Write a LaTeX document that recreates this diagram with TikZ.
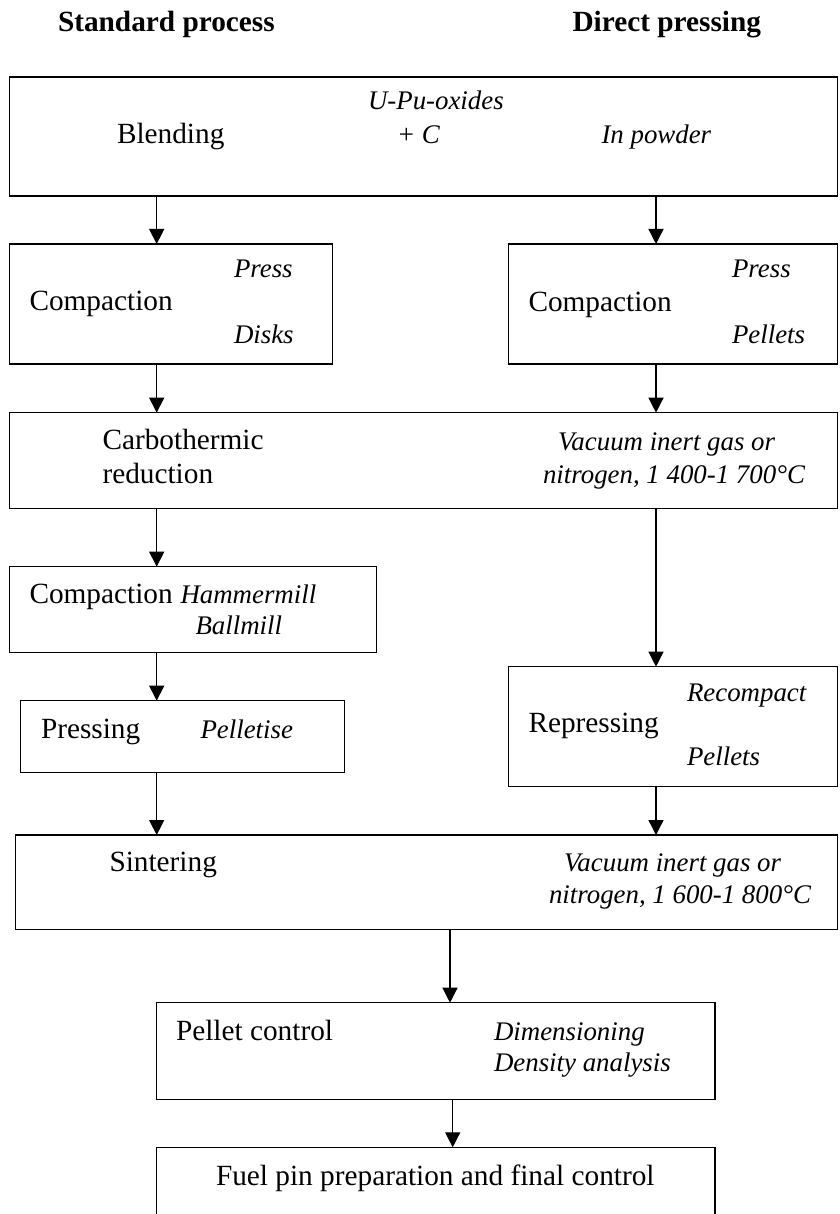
\documentclass[tikz,border=0pt]{standalone}
\usepackage{fontspec}
\setmainfont{Liberation Serif}
\usetikzlibrary{arrows.meta}
\tikzset{
  box/.style={draw, line width=1.5pt, inner sep=0pt, outer sep=0pt},
  txt/.style={anchor=base west, inner sep=0pt, outer sep=0pt, font=\fontsize{29.3}{35}\selectfont},
  itx/.style={anchor=base west, inner sep=0pt, outer sep=0pt, font=\fontsize{26.86}{32}\selectfont\itshape},
  ttl/.style={anchor=base west, inner sep=0pt, outer sep=0pt, font=\fontsize{29.3}{35}\selectfont\bfseries},
  arr/.style={line width=1.3pt, -{Triangle[width=15pt,length=15pt]}},
}
\begin{document}
\begin{tikzpicture}[x=1pt,y=-1pt]
\useasboundingbox (0,0) rectangle (839,1214);
% columns of connectors
\coordinate (L) at (156.7,0);
\coordinate (R) at (656,0);
\coordinate (M1) at (450,0);
\coordinate (M2) at (452.7,0);
% titles
\node[ttl] (tstd) at (58,31.7) {Standard process};
\node[ttl] (tdir) at (572.5,31.7) {Direct pressing};
% boxes
\node[box, minimum width=828.2pt, minimum height=119pt] (blend) at (423.4,136.5) {};
\node[box, minimum width=323.4pt, minimum height=120pt] (comp1) at (171,304) {};
\node[box, minimum width=328.8pt, minimum height=120pt] (comp2) at (673.1,304) {};
\node[box, minimum width=828.2pt, minimum height=96pt] (carbo) at (423.4,460.7) {};
\node[box, minimum width=367.4pt, minimum height=86pt] (mill) at (193,609.7) {};
\node[box, minimum width=323.6pt, minimum height=72pt] (press) at (182.5,736.7) {};
\node[box, minimum width=328.8pt, minimum height=120pt] (repress) at (673.1,726.7) {};
\node[box, minimum width=822.2pt, minimum height=94.3pt] (sinter) at (426.4,882.15) {};
\node[box, minimum width=558.3pt, minimum height=96.6pt] (pctrl) at (435.85,1051) {};
\node[box, minimum width=558.3pt, minimum height=92.7pt] (fuel) at (435.85,1193.65) {};
% texts
\node[itx] (t1) at (368,110) {U-Pu-oxides};
\node[txt] (t2) at (117,143.3) {Blending};
\node[itx] (t3) at (397,143.3) {+ C};
\node[itx] (t4) at (601.5,143.3) {In powder};
\node[txt] (t5) at (29.5,310.7) {Compaction};
\node[itx] (t6) at (234,278) {Press};
\node[itx] (t7) at (234,343) {Disks};
\node[txt] (t8) at (528.5,311) {Compaction};
\node[itx] (t9) at (732,278) {Press};
\node[itx] (t10) at (732,343) {Pellets};
\node[txt] (t11) at (102.5,449) {Carbothermic};
\node[txt] (t12) at (102.5,483) {reduction};
\node[itx] (t13) at (558,450) {Vacuum inert gas or};
\node[itx] (t14) at (543,483.3) {nitrogen, 1 400-1 700°C};
\node[txt] (t15) at (29.5,603) {Compaction};
\node[itx] (t16) at (180.5,603) {Hammermill};
\node[itx] (t17) at (195.5,634) {Ballmill};
\node[txt] (t18) at (41,738) {Pressing};
\node[itx] (t19) at (200.5,738) {Pelletise};
\node[itx] (t20) at (687,701.7) {Recompact};
\node[txt] (t21) at (528.5,732.7) {Repressing};
\node[itx] (t22) at (687,765) {Pellets};
\node[txt] (t23) at (109.5,871.7) {Sintering};
\node[itx] (t24) at (564,871.7) {Vacuum inert gas or};
\node[itx] (t25) at (549,903.3) {nitrogen, 1 600-1 800°C};
\node[txt] (t26) at (176,1040) {Pellet control};
\node[itx] (t27) at (494,1040) {Dimensioning};
\node[itx] (t28) at (494,1071.7) {Density analysis};
\node[txt] (t29) at (216,1185) {Fuel pin preparation and final control};
% connectors
\draw[arr] (blend.south -| L) -- (comp1.north -| L);
\draw[arr] (blend.south -| R) -- (comp2.north -| R);
\draw[arr] (comp1.south -| L) -- (carbo.north -| L);
\draw[arr] (comp2.south -| R) -- (carbo.north -| R);
\draw[arr] (carbo.south -| L) -- (mill.north -| L);
\draw[arr] (carbo.south -| R) -- (repress.north -| R);
\draw[arr] (mill.south -| L) -- (press.north -| L);
\draw[arr] (press.south -| L) -- (sinter.north -| L);
\draw[arr] (repress.south -| R) -- (sinter.north -| R);
\draw[arr] (sinter.south -| M1) -- (pctrl.north -| M1);
\draw[arr] (pctrl.south -| M2) -- (fuel.north -| M2);
\end{tikzpicture}
\end{document}
